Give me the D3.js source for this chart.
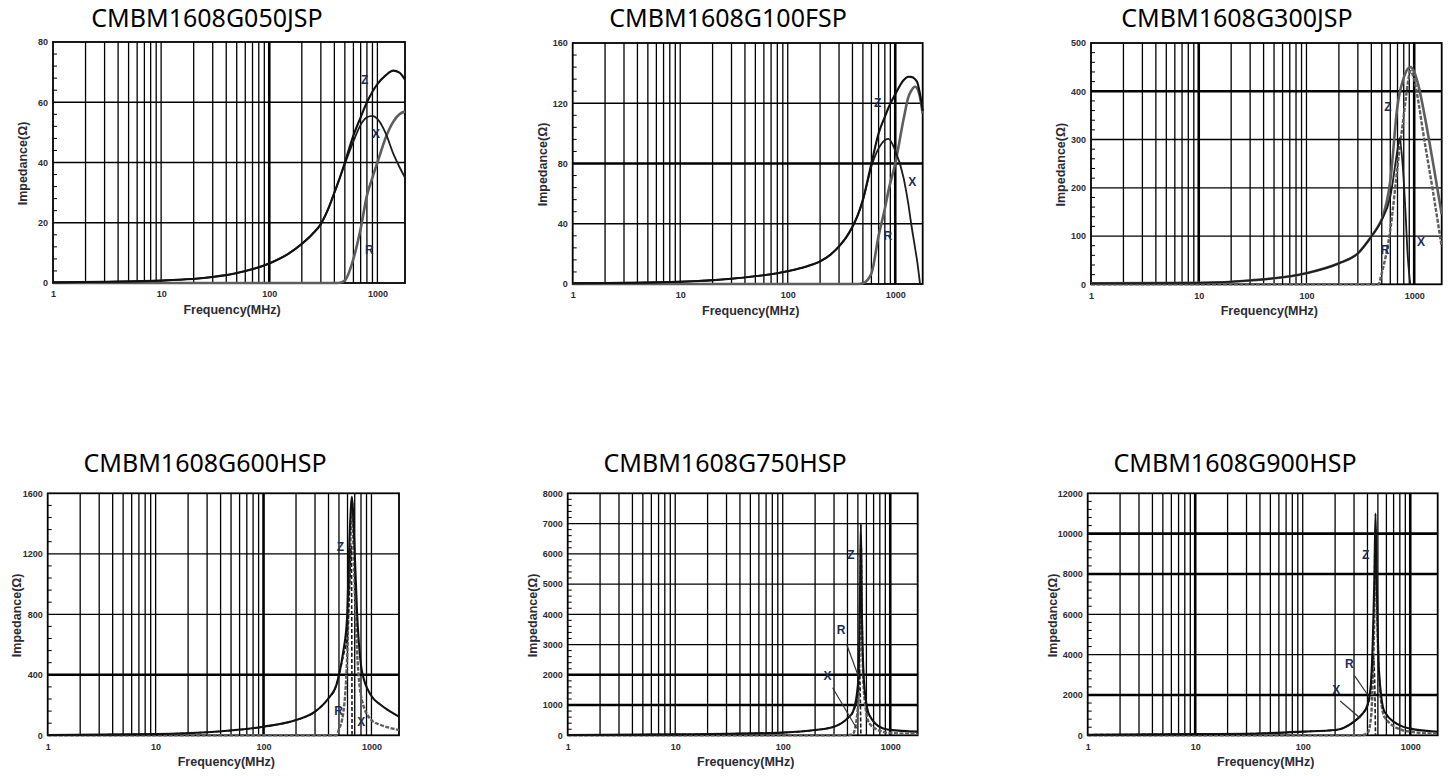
<!DOCTYPE html>
<html>
<head>
<meta charset="utf-8">
<script src="https://cdn.jsdelivr.net/npm/d3@7"></script>
<style>
  body { margin: 0; background: #fff; }
  svg { display: block; }
</style>
</head>
<body>
<svg id="chart" width="1454" height="776"></svg>
<script>
// ---- data ----
const titles = ["CMBM1608G050JSP", "CMBM1608G100FSP", "CMBM1608G300JSP",
                "CMBM1608G600HSP", "CMBM1608G750HSP", "CMBM1608G900HSP"];
const xTickValues = [1, 10, 100, 1000];
const yMaxes = [80, 160, 500, 1600, 8000, 12000];
const ySteps = [20, 40, 100, 400, 1000, 2000];

const freq050 = [1, 3, 10, 30, 50, 100, 150, 200, 250, 300, 350, 400, 450, 500, 600, 700, 800, 900, 1000, 1200, 1400, 1600, 1800];
const z050 = [0.2, 0.4, 0.8, 2, 3.3, 6.5, 9.7, 13, 16.2, 19.6, 24.5, 30, 35, 40, 49, 55, 60, 63.5, 66, 69, 70.5, 69.8, 67.5];
const x050 = [0.2, 0.4, 0.8, 2, 3.3, 6.5, 9.7, 13, 16.2, 19.6, 24.5, 30, 35, 39.5, 47, 52.5, 55, 55.5, 54.5, 49.5, 43, 38.5, 35];
const r050 = [0, 0, 0, 0, 0, 0, 0, 0, 0, 0, 0, 0, 0.1, 0.8, 8, 18, 29, 35, 40, 48.5, 53.5, 56, 57];

const freq100 = [1, 10, 30, 100, 150, 200, 250, 300, 350, 400, 450, 500, 600, 700, 800, 865, 1000, 1200, 1324, 1400, 1528, 1600, 1700, 1800];
const z100 = [0.5, 1.5, 3.5, 8.5, 11.7, 15, 19.5, 25, 31, 38, 46, 56, 80, 100, 111, 117, 126, 135.5, 137.6, 137.5, 136, 134, 126, 115];
const x100 = [0.5, 1.5, 3.5, 8.5, 11.7, 15, 19.5, 25, 31, 38, 46, 55.5, 78, 90, 95.5, 96.3, 88.5, 70, 53, 41, 24, 15, 0, null];
const r100 = [0, 0, 0, 0, 0, 0, 0, 0, 0, 0, 0, 0.5, 7, 32, 50, 62, 80, 110, 124, 128, 131, 130, 124, 113];

const freq300 = [1, 10, 30, 100, 200, 300, 400, 465, 500, 600, 700, 730, 780, 830, 870, 900, 920, 1000, 1100, 1200, 1500, 1800];
const z300 = [2, 3, 8, 23, 43.5, 64, 99, 121, 135, 214, 370, 395, 420, 438, 446, 449, 450, 440, 410, 370, 250, 145];
const x300 = [2, 3, 8, 23, 43.5, 64, 99, 120, 133, 182, 279, 303, 250, 150, 60, 20, 0, null, null, null, null, null];
const r300 = [0, 0, 0, 0, 0, 0, 0, 0, 23, 113, 244, 280, 330, 380, 415, 435, 442, 424, 375, 320, 190, 78];

const freq600 = [1, 10, 30, 100, 200, 300, 400, 472, 500, 550, 594, 628, 651, 661, 684, 735, 818, 1000, 1200, 1500, 1800];
const z600 = [2, 8, 20, 57, 101, 156, 245, 330, 399, 560, 774, 1324, 1545, 1577, 1390, 817, 420, 260, 205, 156, 123];
const x600 = [2, 8, 20, 57, 101, 156, 245, 328, 395, 530, 640, 1000, 1250, 0, null, null, null, null, null, null, null];
const r600 = [0, 0, 0, 0, 0, 0, 0, 0, 40, 156, 500, 1100, 1450, 1540, 1200, 560, 230, 101, 70, 48, 35];

const freq750 = [1, 10, 30, 100, 200, 300, 400, 450, 500, 515, 525, 533, 545, 573, 638, 847, 1000, 1800];
const z750 = [10, 30, 50, 90, 175, 285, 560, 780, 1660, 3000, 5000, 7000, 4000, 1660, 670, 230, 180, 120];
const x750 = [10, 30, 50, 90, 175, 285, 560, 770, 1400, 2200, 1500, 0, null, null, null, null, null, null];
const r750 = [0, 0, 0, 0, 0, 0, 0, 50, 900, 2200, 4200, 6300, 3700, 1300, 400, 120, 80, 40];

const freq900 = [1, 10, 30, 100, 200, 300, 350, 400, 430, 450, 465, 475, 489, 510, 576, 851, 1000, 1800];
const z900 = [30, 60, 80, 180, 260, 680, 1000, 1500, 2500, 4980, 8000, 11000, 7450, 3320, 1170, 430, 330, 175];
const x900 = [30, 60, 80, 180, 260, 680, 1000, 1450, 2300, 4000, 3000, 0, null, null, null, null, null, null];
const r900 = [0, 0, 0, 0, 0, 0, 0, 100, 800, 3000, 6500, 10200, 7000, 3000, 900, 250, 180, 70];

// curve label anchors [name, freq, value]
const labels050 = [["Z", 763, 67.4], ["X", 972, 49.5], ["R", 843, 11.2]];
const labels100 = [["Z", 687, 120.4], ["X", 1443, 67.9], ["R", 851, 31.9]];
const labels300 = [["Z", 569, 368], ["X", 1159, 88.4], ["R", 537, 72.6]];
const labels600 = [["Z", 515, 1247], ["X", 806, 90], ["R", 496, 163]];
const labels750 = [["Z", 431, 5960], ["X", 261, 1970], ["R", 348, 3481]];
const labels900 = [["Z", 384, 8975], ["X", 205, 2246], ["R", 272, 3570]];

// leader lines [f1, v1, f2, v2]
const leaders750 = [[393, 3008, 507, 1937], [291, 1574, 486, 231]];
const leaders900 = [[303, 2955, 403, 1998], [223, 1701, 343, 843]];

const panels = [
  { f: freq050, z: z050, x: x050, r: r050, labels: labels050, leaders: [] },
  { f: freq100, z: z100, x: x100, r: r100, labels: labels100, leaders: [] },
  { f: freq300, z: z300, x: x300, r: r300, labels: labels300, leaders: [] },
  { f: freq600, z: z600, x: x600, r: r600, labels: labels600, leaders: [] },
  { f: freq750, z: z750, x: x750, r: r750, labels: labels750, leaders: leaders750 },
  { f: freq900, z: z900, x: x900, r: r900, labels: labels900, leaders: leaders900 }
];

// ---- layout / styles ----
const boxes = [
  { l: 53, t: 42, r: 405, b: 283, tx: 207, ty: 27, yo: 30, thickX: [100], thickY: [] },
  { l: 572.7, t: 43, r: 922.7, b: 284, tx: 728, ty: 27, yo: 30.5, thickX: [1000], thickY: [80] },
  { l: 1091, t: 43, r: 1441.7, b: 284.3, tx: 1237, ty: 27, yo: 30, thickX: [10, 1000], thickY: [400] },
  { l: 47.7, t: 493.3, r: 399, b: 735.3, tx: 205, ty: 472, yo: 31, thickX: [100], thickY: [400] },
  { l: 567.7, t: 493.3, r: 917.7, b: 735.3, tx: 725, ty: 472, yo: 35, thickX: [1000], thickY: [1000, 2000] },
  { l: 1087.7, t: 493.3, r: 1437.7, b: 735.3, tx: 1235, ty: 472, yo: 35, thickX: [10, 1000], thickY: [2000, 8000, 10000] }
];

const solidBlack = { stroke: "#111", width: 2.1, dash: null };
const thinBlack = { stroke: "#1c1c1c", width: 1.8, dash: null };
const grayThick = { stroke: "#5e5e5e", width: 2.6, dash: null };
const grayDash = { stroke: "#5e5e5e", width: 2.4, dash: "4,1.5" };
const blackDash = { stroke: "#1c1c1c", width: 1.6, dash: "4,2" };

// draw order: first to last
const styles = [
  [["r", grayThick], ["x", thinBlack], ["z", solidBlack]],
  [["r", grayThick], ["x", thinBlack], ["z", solidBlack]],
  [["z", grayThick], ["r", grayDash], ["x", thinBlack]],
  [["r", grayDash], ["x", blackDash], ["z", solidBlack]],
  [["r", grayDash], ["x", blackDash], ["z", solidBlack]],
  [["r", grayDash], ["x", blackDash], ["z", solidBlack]]
];

const svg = d3.select("#chart");
const textColor = "#2b2b35";

function drawPanel(i) {
  const b = boxes[i], p = panels[i];
  const x = d3.scaleLog().domain([1, 1800]).range([b.l, b.r]);
  const y = d3.scaleLinear().domain([0, yMaxes[i]]).range([b.b, b.t]);
  const g = svg.append("g");

  g.append("text")
    .attr("x", b.tx).attr("y", b.ty)
    .attr("text-anchor", "middle")
    .attr("font-family", "Noto Sans, sans-serif")
    .attr("font-size", 25)
    .attr("fill", "#000")
    .text(titles[i]);

  // grid
  const vLines = [];
  for (let k = 0; k < 4; k++) {
    for (let m = 1; m < 10; m++) {
      const v = m * Math.pow(10, k);
      if (v > 1 && v < 1800) vLines.push(v);
    }
  }
  g.selectAll(".vg").data(vLines).join("line")
    .attr("x1", d => x(d)).attr("x2", d => x(d))
    .attr("y1", b.t).attr("y2", b.b)
    .attr("stroke", "#000")
    .attr("stroke-width", d => b.thickX.includes(d) ? 2.6 : 1.3);

  const hLines = d3.range(ySteps[i], yMaxes[i], ySteps[i]);
  g.selectAll(".hg").data(hLines).join("line")
    .attr("x1", b.l).attr("x2", b.r)
    .attr("y1", d => y(d)).attr("y2", d => y(d))
    .attr("stroke", "#000")
    .attr("stroke-width", d => b.thickY.includes(d) ? 2.6 : 1.3);

  // minor ticks on the left axis
  const minor = d3.range(0, yMaxes[i], ySteps[i] / 5).filter((d, j) => j % 5 !== 0);
  g.selectAll(".mt").data(minor).join("line")
    .attr("x1", b.l).attr("x2", b.l + 4)
    .attr("y1", d => y(d)).attr("y2", d => y(d))
    .attr("stroke", "#000").attr("stroke-width", 1);

  g.append("rect")
    .attr("x", b.l).attr("y", b.t)
    .attr("width", b.r - b.l).attr("height", b.b - b.t)
    .attr("fill", "none").attr("stroke", "#000").attr("stroke-width", 1.8);

  // axes
  const xa = g.append("g").attr("transform", `translate(0,${b.b})`)
    .call(d3.axisBottom(x).tickValues(xTickValues).tickSize(0).tickPadding(8).tickFormat(d3.format("d")));
  const ya = g.append("g").attr("transform", `translate(${b.l},0)`)
    .call(d3.axisLeft(y).tickValues(d3.range(0, yMaxes[i] + 1, ySteps[i])).tickSize(0).tickPadding(5).tickFormat(d3.format("d")));
  [xa, ya].forEach(a => {
    a.select(".domain").remove();
    a.selectAll("text")
      .attr("font-family", "Liberation Sans, Arial, sans-serif")
      .attr("font-weight", "bold")
      .attr("font-size", 9)
      .attr("fill", textColor);
  });

  g.append("text")
    .attr("x", (b.l + b.r) / 2 + 3).attr("y", b.b + 31)
    .attr("text-anchor", "middle")
    .attr("font-family", "Liberation Sans, Arial, sans-serif")
    .attr("font-weight", "bold").attr("font-size", 12.5)
    .attr("fill", textColor)
    .text("Frequency(MHz)");

  g.append("text")
    .attr("transform", `translate(${b.l - b.yo},${(b.t + b.b) / 2 + 1}) rotate(-90)`)
    .attr("text-anchor", "middle").attr("dy", "0.35em")
    .attr("font-family", "Liberation Sans, Arial, sans-serif")
    .attr("font-weight", "bold").attr("font-size", 12.5)
    .attr("fill", textColor)
    .text("Impedance(Ω)");

  // curves
  const line = d3.line()
    .defined(d => d[1] != null)
    .x(d => x(d[0])).y(d => y(d[1]))
    .curve(d3.curveMonotoneX);
  const pts = vals => p.f.map((f, j) => [f, vals[j]]);

  styles[i].forEach(([key, st]) => {
    g.append("path").datum(pts(p[key]))
      .attr("d", line).attr("fill", "none")
      .attr("stroke", st.stroke).attr("stroke-width", st.width)
      .attr("stroke-dasharray", st.dash);
  });

  g.selectAll(".ld").data(p.leaders).join("line")
    .attr("x1", d => x(d[0])).attr("y1", d => y(d[1]))
    .attr("x2", d => x(d[2])).attr("y2", d => y(d[3]))
    .attr("stroke", "#333").attr("stroke-width", 1.2);

  g.selectAll(".lb").data(p.labels).join("text")
    .attr("x", d => x(d[1])).attr("y", d => y(d[2]))
    .attr("dy", "0.36em")
    .attr("text-anchor", "middle")
    .attr("font-family", "Liberation Sans, Arial, sans-serif")
    .attr("font-weight", "bold").attr("font-size", 12)
    .attr("fill", "#1e2c55")
    .text(d => d[0]);
}

panels.forEach((p, i) => drawPanel(i));
</script>
</body>
</html>
